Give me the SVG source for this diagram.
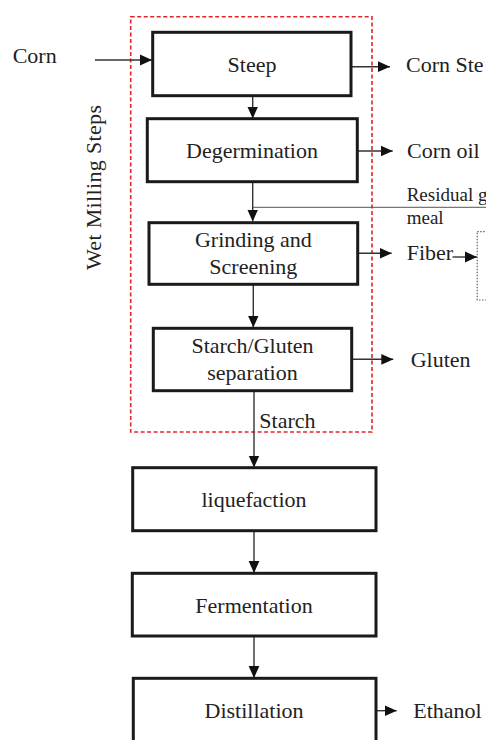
<svg xmlns="http://www.w3.org/2000/svg" width="486" height="740" viewBox="0 0 486 740">
<defs>
<marker id="ah" markerUnits="userSpaceOnUse" markerWidth="12" markerHeight="12" viewBox="0 0 10 10" refX="10" refY="5" orient="auto">
<path d="M0,0.5 L10,5 L0,9.5 z" fill="#111"/>
</marker>
<style>
.box{fill:#fff;stroke:#1a1a1a;stroke-width:3}
.t{font-family:"Liberation Serif","Times New Roman",serif;font-size:22px;fill:#222}
.tc{text-anchor:middle}
.s{font-size:19px}
.c{fill:none;stroke:#333;stroke-width:1.4}
.thin{fill:none;stroke:#555;stroke-width:1}
</style>
</defs>
<rect x="130.7" y="16.7" width="241.3" height="415.3" fill="none" stroke="#e3242b" stroke-width="1.6" stroke-dasharray="4,2.5"/>
<text class="t" transform="translate(101,270) rotate(-90)" textLength="165" lengthAdjust="spacing">Wet Milling Steps</text>
<g id="connectors">
<path class="c" d="M95,60 H152" marker-end="url(#ah)"/>
<path class="c" d="M351,66.7 H390" marker-end="url(#ah)"/>
<path class="c" d="M252.7,95.7 V118.5" marker-end="url(#ah)"/>
<path class="c" d="M357,151 H392.7" marker-end="url(#ah)"/>
<path class="c" d="M252.7,181.7 V221.5" marker-end="url(#ah)"/>
<path class="thin" d="M252.7,207.3 H486"/>
<path class="c" d="M357.7,253.3 H391.7" marker-end="url(#ah)"/>
<path class="c" d="M452.5,257 H477" marker-end="url(#ah)"/>
<path class="c" d="M253.3,284.3 V327.5" marker-end="url(#ah)"/>
<path class="c" d="M351.7,359.3 H393.3" marker-end="url(#ah)"/>
<path class="c" d="M254,390.7 V467.5" marker-end="url(#ah)"/>
<path class="c" d="M254,530.7 V573" marker-end="url(#ah)"/>
<path class="c" d="M254,636 V678" marker-end="url(#ah)"/>
<path class="c" d="M376,710.7 H396.7" marker-end="url(#ah)"/>
</g>
<g id="corn"><text class="t" x="12.7" y="63">Corn</text></g>
<g id="steep"><rect class="box" x="152.7" y="32.3" width="198.3" height="63.4"/><text class="t tc" x="252" y="72">Steep</text></g>
<g id="cornsteep"><text class="t" x="406" y="72.3">Corn Ste</text></g>
<g id="degermination"><rect class="box" x="147.3" y="118.7" width="210" height="63"/><text class="t tc" x="252" y="158.3">Degermination</text></g>
<g id="cornoil"><text class="t" x="407" y="157.7">Corn oil</text></g>
<g id="residual"><text class="t s" x="406.7" y="201">Residual g</text><text class="t s" x="406.7" y="224.3">meal</text></g>
<g id="grinding"><rect class="box" x="149" y="222.7" width="208.7" height="61.6"/><text class="t tc" x="253.3" y="246.7">Grinding and</text><text class="t tc" x="253.3" y="274.3">Screening</text></g>
<g id="fiber"><text class="t" x="406.7" y="260">Fiber</text></g>
<g id="fiberbox"><rect x="477.2" y="231.7" width="20" height="68.3" fill="none" stroke="#666" stroke-width="1.2" stroke-dasharray="1.5,1.5"/></g>
<g id="separation"><rect class="box" x="153.3" y="328.3" width="198.4" height="62.4"/><text class="t tc" x="252.5" y="353.3">Starch/Gluten</text><text class="t tc" x="252.5" y="380">separation</text></g>
<g id="gluten"><text class="t" x="410.7" y="366.7">Gluten</text></g>
<g id="starch"><text class="t" x="259.3" y="428.3">Starch</text></g>
<g id="liquefaction"><rect class="box" x="132.7" y="467.7" width="243.3" height="63"/><text class="t tc" x="254" y="506.7">liquefaction</text></g>
<g id="fermentation"><rect class="box" x="132.3" y="573.3" width="243.7" height="62.7"/><text class="t tc" x="254" y="612.7">Fermentation</text></g>
<g id="distillation"><rect class="box" x="133.3" y="678.3" width="242.7" height="70"/><text class="t tc" x="254" y="717.7">Distillation</text></g>
<g id="ethanol"><text class="t" x="413.3" y="717.7">Ethanol</text></g>
</svg>
